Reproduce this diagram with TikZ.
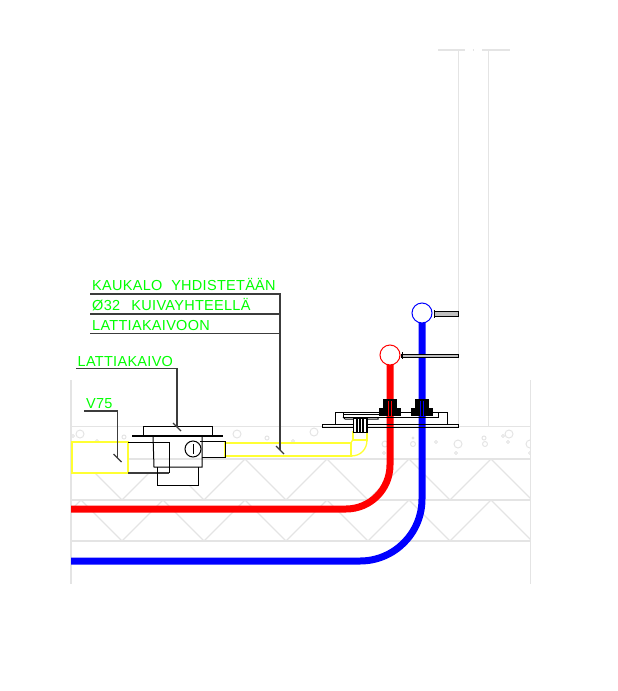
\documentclass[tikz,border=0pt]{standalone}
\usepackage{fontspec}
\setmainfont{Liberation Sans}[LetterSpace=2]
\usepackage{tikz}
\definecolor{cadgreen}{RGB}{0,255,0}
\definecolor{cadyellow}{RGB}{255,255,50}
\definecolor{cadgray}{RGB}{228,228,228}
\definecolor{leadgray}{RGB}{60,60,60}
\tikzset{
    cadtext/.style={anchor=base west, inner sep=0pt, text=cadgreen, font=\fontsize{14.5}{15}\selectfont},
    concrete/.style={draw=cadgray, line width=1.2pt},
    gravel/.style={draw=cadgray, line width=1pt},
    leader/.style={draw=leadgray, line width=1.2pt},
    part/.style={draw=black, line width=1pt},
    trough/.style={draw=cadyellow, line width=1.3pt},
    redpipe/.style={draw=red, line width=7pt},
    bluepipe/.style={draw=blue, line width=7pt},
    holder/.style={draw=black, line width=0.8pt, fill=lightgray},
    pipetop/.style={circle, line width=1pt, minimum size=20pt, inner sep=0pt, outer sep=0pt, fill=white},
}
\begin{document}
\begin{tikzpicture}[x=1pt,y=-1pt]
        \useasboundingbox (0,0) rectangle (618,691);

        % wall
        \draw[concrete] (438,50) -- (465,50);
        \draw[concrete] (482,50) -- (510,50);
        \draw[concrete] (472.5,50) -- (473.5,50);
        \draw[concrete] (458.5,50) -- (458.5,426);
        \draw[concrete] (488.5,50) -- (488.5,426);

        % floor layers
        \draw[concrete] (71,380) -- (71,584);
        \draw[concrete] (530.5,380) -- (530.5,584);
        \foreach \y in {426.5,459,500,541}
            \draw[concrete] (71,\y) -- (530.5,\y);
        \foreach \x in {81,163,245,327,409} {
            \draw[concrete] (\x,459) -- +(41,41);
            \draw[concrete] (\x,500) -- +(41,41);
        }
        \foreach \x in {163,245,327,409,491} {
            \draw[concrete] (\x,459) -- +(-41,41);
            \draw[concrete] (\x,500) -- +(-41,41);
        }
        \draw[concrete] (81,459) -- (71,469);
        \draw[concrete] (81,500) -- (71,510);
        \draw[concrete] (491,459) -- (530.5,498.5);
        \draw[concrete] (491,500) -- (530.5,539.5);

        \begin{scope}
            \clip (71,427) rectangle (530.5,459);
            \foreach \x/\y/\r in {80/434/4,73/436/1.5,97/441/1.5,124/437/2,237/434/4,267/438/2,293/441/1.5,
                    314/432/4,385/444/3,384/453/1.5,413/444/2.5,413/438/1,436/442/1.5,458/444/4,456/453/1.5,
                    484/438/2,485/444/2.5,503/436/1.5,509/434/4,508/442/1.5,530/444/4,530/453/1.5}
                \draw[gravel] (\x,\y) circle (\r);
        \end{scope}

        % yellow troughs
        \fill[white] (128,460) rectangle (202,473);
        \fill[white] (157,473) rectangle (198,485);
        \draw[trough, fill=white] (72,442) rectangle (128,473);
        \draw[trough] (225,443) rectangle (351,456);
        \draw[trough] (353,432) -- (367,432) -- (367,440) -- (353,440) -- cycle;
        \draw[trough] (353,440) .. controls (352,441) and (351,442) .. (351,443);
        \draw[trough] (367,440) .. controls (367,449) and (361,456) .. (351,456);

        % pipes
        \node[pipetop, draw=red] (redtop) at (390,355) {};
        \node[pipetop, draw=blue] (bluetop) at (422,313) {};
        \coordinate (redend) at (71,509);
        \coordinate (blueend) at (71,561);
        \draw[redpipe, rounded corners=44pt] (redtop.south) |- (redend);
        \draw[bluepipe, rounded corners=62pt] (bluetop.south) |- (blueend);

        % pipe holders
        \draw[holder] (redtop.east) ++(1,-1) rectangle (458,357);
        \draw[holder] (bluetop.east) ++(2,-1.5) rectangle (458,316);
        \draw[black, line width=1pt] (402,352) -- (402,359);
        \draw[black, line width=1pt] (434,310) -- (434,318);

        % manifold plate
        \draw[part] (322,424) rectangle (458,427);
        \draw[part] (335,424) -- (335,412) -- (447,412) -- (447,424);
        \draw[part] (343,412) rectangle (438,417);
        \draw[part] (343,414.5) -- (379,414.5);
        \draw[part] (343,417) -- (345,419) -- (378,419) -- (378,417);
        % ribbed connector
        \draw[part, fill=white] (353,418) rectangle (367,432);
        \foreach \x in {353.5,357,360,363,366.5}
            \draw[black, line width=1.3pt] (\x,418) -- (\x,432);

        % fittings
        \foreach \x/\c in {390/red,422/blue} {
            \fill[black] (\x-11,408) rectangle (\x+11,416);
            \fill[black] (\x-7,399) rectangle (\x+7,408);
            \draw[\c, line width=0.8pt] (\x-1.5,401) -- (\x-1.5,416);
            \draw[\c, line width=0.8pt] (\x+1.5,401) -- (\x+1.5,416);
        }

        % floor drain
        \draw[part] (143,426) rectangle (212,435);
        \draw[part] (153,436) -- (154,467) -- (202,467) -- (202,436);
        \draw[part] (128,442) -- (169,442) -- (169,473);
        \draw[leader] (128,473) -- (169,473);
        \draw[part] (157,467) -- (157,485) -- (198,485) -- (198,467);
        \draw[part] (200,441) -- (225,441) -- (225,457) -- (202,457);
        \draw[black, line width=2pt] (132,435.5) -- (223,435.5);
        \node[draw=black, line width=1pt, circle, minimum size=16pt, inner sep=0pt, fill=white] (trap) at (193,449) {};
        \draw[black, line width=1pt] (193,444) -- (193,454);

        % labels and leaders
        \node[cadtext] (kaukalo) at (92,290.5) {KAUKALO\hspace{4.5pt} YHDISTETÄÄN};
        \node[cadtext] (kuiva) at (92,310.5) {Ø32\hspace{7pt} KUIVAYHTEELLÄ};
        \node[cadtext] (kaivoon) at (92,330) {LATTIAKAIVOON};
        \node[cadtext] (kaivo) at (77.5,366) {LATTIAKAIVO};
        \node[cadtext] (vputki) at (86,408) {V75};

        \coordinate (kaukaloa) at (90,294);
        \coordinate (kaukalob) at (280,294);
        \coordinate (kuivaa) at (90,314);
        \coordinate (kuivab) at (280,314);
        \coordinate (kaivoona) at (90,333.5);
        \coordinate (kaivoonb) at (280,333.5);
        \coordinate (kaukaloend) at (280,450);
        \coordinate (kaivoa) at (76,368.5);
        \coordinate (kaivob) at (177,368.5);
        \coordinate (kaivoend) at (177,427);
        \coordinate (va) at (84,411);
        \coordinate (vb) at (117.5,411);
        \coordinate (vend) at (117.5,458);

        \draw[leader] (kaukaloa) -- (kaukalob) -- (kaukaloend);
        \draw[leader] (kuivaa) -- (kuivab);
        \draw[leader] (kaivoona) -- (kaivoonb);
        \draw[leader] (kaivoa) -- (kaivob) -- (kaivoend);
        \draw[leader] (va) -- (vb) -- (vend);
        \draw[leader] (kaukaloend) ++(-4,-4) -- ++(8,8);
        \draw[leader] (kaivoend) ++(-4,-4) -- ++(8,8);
        \draw[leader] (vend) ++(-4,-4) -- ++(8,8);
    \end{tikzpicture}
\end{document}
